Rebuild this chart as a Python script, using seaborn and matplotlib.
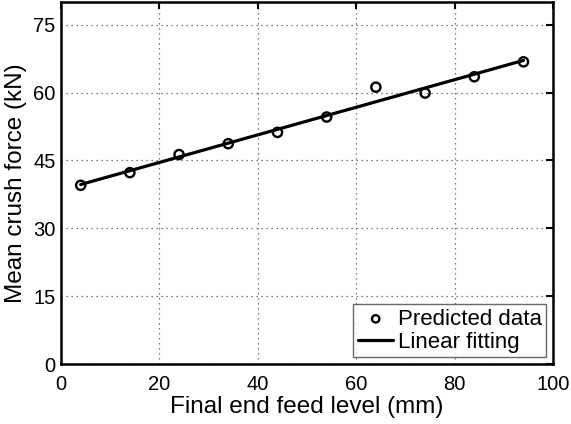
import matplotlib
matplotlib.use("Agg")
import matplotlib.pyplot as plt
import seaborn as sns
import pandas as pd

feed_level = [4, 14, 24, 34, 44, 54, 64, 74, 84, 94]
crush_force = [39.5, 42.3, 46.3, 48.7, 51.2, 54.6, 61.2, 59.9, 63.5, 66.8]
x_ticks = [0, 20, 40, 60, 80, 100]
y_ticks = [0, 15, 30, 45, 60, 75]

sns.set_style("white")
plt.rcParams['font.family'] = ['Liberation Sans', 'DejaVu Sans']
plt.rcParams['text.color'] = 'black'
plt.rcParams['axes.labelcolor'] = 'black'

df = pd.DataFrame({"x": feed_level, "y": crush_force})

fig = plt.figure(figsize=(5.71, 4.24), dpi=100)
ax = fig.add_axes([0.1068, 0.1415, 0.8617, 0.8535])

sns.regplot(data=df, x="x", y="y", ax=ax, scatter=False, ci=None,
            label="Linear fitting",
            line_kws=dict(color="black", lw=2.3, zorder=3))
sns.scatterplot(data=df, x="x", y="y", ax=ax, marker="o", s=44,
                facecolors="none", edgecolor="black", linewidth=1.7,
                label="Predicted data", zorder=4)

ax.set_xlim(0, 100)
ax.set_ylim(0, 80)
ax.set_xticks(x_ticks)
ax.set_yticks(y_ticks)
ax.grid(True, linestyle=(0, (1, 3)), color="#555555", lw=0.9)
for s in ax.spines.values():
    s.set_linewidth(1.8)
    s.set_color("black")
ax.tick_params(direction="in", length=5, width=1.5, top=True, right=True,
               labelsize=14.5, colors="black", labelcolor="black")
ax.tick_params(axis="x", pad=8)
ax.tick_params(axis="y", pad=4)
ax.set_xlabel("Final end feed level (mm)", fontsize=17.5, labelpad=1, color="black")
ax.set_ylabel("Mean crush force (kN)", fontsize=17.5, labelpad=4, color="black")

h, l = ax.get_legend_handles_labels()
order = [l.index("Predicted data"), l.index("Linear fitting")]
leg = ax.legend([h[i] for i in order], [l[i] for i in order], loc="lower right",
                fontsize=16, frameon=True, fancybox=False, edgecolor="#444444",
                borderaxespad=0.3, handlelength=1.6, handletextpad=0.2,
                borderpad=0.2, labelspacing=0.1, markerscale=0.8)
leg.get_frame().set_linewidth(1.0)
for t in leg.get_texts():
    t.set_color("black")

fig.savefig("out.png", dpi=100)
